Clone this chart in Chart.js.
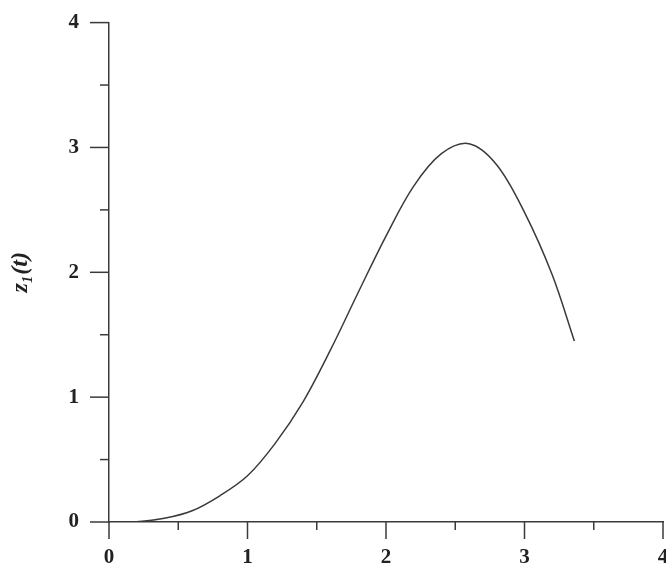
<!DOCTYPE html>
<html>
<head>
<meta charset="utf-8">
<script src="https://cdn.jsdelivr.net/npm/chart.js@4/dist/chart.umd.min.js"></script>
<style>
  html, body { margin: 0; padding: 0; background: #fff; }
  #wrap { width: 666px; height: 572px; }
</style>
</head>
<body>
<div id="wrap"><canvas id="z1Chart"></canvas></div>
<script>
// values
const tValues = [0, 0.2, 0.4, 0.6, 0.8, 1.0, 1.2, 1.4, 1.6, 1.8, 2.0, 2.2, 2.4, 2.6, 2.8, 3.0, 3.2, 3.36];
const z1Values = [0, 0.003, 0.03, 0.09, 0.21, 0.37, 0.63, 0.96, 1.38, 1.84, 2.29, 2.69, 2.95, 3.03, 2.86, 2.48, 1.98, 1.45];
const xTickLabels = [0, 1, 2, 3, 4];
const yTickLabels = [0, 1, 2, 3, 4];

const ink = '#3a3a3a';

// short minor ticks at halves, long major ticks at integers
const tickMarks = {
    id: 'tickMarks',
    afterDraw(chart) {
        const ctx = chart.ctx;
        const area = chart.chartArea;
        const x = chart.scales.x;
        const y = chart.scales.y;
        ctx.save();
        ctx.strokeStyle = ink;
        ctx.lineWidth = 1.5;
        x.ticks.forEach(t => {
            const px = x.getPixelForValue(t.value);
            const len = xTickLabels.includes(t.value) ? 17 : 8;
            ctx.beginPath();
            ctx.moveTo(px, area.bottom);
            ctx.lineTo(px, area.bottom + len);
            ctx.stroke();
        });
        y.ticks.forEach(t => {
            const py = y.getPixelForValue(t.value);
            const len = yTickLabels.includes(t.value) ? 19 : 9;
            ctx.beginPath();
            ctx.moveTo(area.left, py);
            ctx.lineTo(area.left - len, py);
            ctx.stroke();
        });
        ctx.restore();
    }
};

const labelFont = { family: '"Liberation Serif", "DejaVu Serif", serif', size: 21, weight: 'bold' };

new Chart(document.getElementById('z1Chart'), {
    type: 'line',
    data: {
        datasets: [{
            data: tValues.map((t, i) => ({ x: t, y: z1Values[i] })),
            borderColor: ink,
            borderWidth: 1.5,
            pointRadius: 0,
            fill: false,
            tension: 0.35
        }]
    },
    options: {
        responsive: true,
        maintainAspectRatio: false,
        animation: false,
        layout: { padding: { top: 15, right: 3, left: 0, bottom: 0 } },
        plugins: {
            legend: { display: false },
            tooltip: { enabled: false }
        },
        scales: {
            x: {
                type: 'linear',
                min: 0,
                max: 4,
                grid: { drawOnChartArea: false, tickColor: 'transparent', tickLength: 20 },
                border: { color: ink, width: 1.5 },
                ticks: {
                    stepSize: 0.5,
                    autoSkip: false,
                    maxRotation: 0,
                    padding: 3,
                    color: '#222',
                    font: labelFont,
                    callback: v => xTickLabels.includes(v) ? String(v) : ''
                },
                afterFit(scale) {
                    scale.height = 50;
                    scale.paddingLeft = 0;
                    scale.paddingRight = 0;
                }
            },
            y: {
                min: 0,
                max: 4,
                grid: { drawOnChartArea: false, tickColor: 'transparent', tickLength: 20 },
                border: { color: ink, width: 1.5 },
                ticks: {
                    stepSize: 0.5,
                    autoSkip: false,
                    padding: 10,
                    color: '#222',
                    font: labelFont,
                    callback: v => yTickLabels.includes(v) ? String(v) : ''
                },
                title: {
                    display: true,
                    text: 'z₁(t)',
                    color: '#222',
                    font: { family: '"Liberation Serif", "DejaVu Serif", serif', size: 24, style: 'italic', weight: 'bold' },
                    padding: { top: 6, bottom: 0 }
                },
                afterFit(scale) {
                    scale.width = 109;
                }
            }
        }
    },
    plugins: [tickMarks]
});
</script>
</body>
</html>
